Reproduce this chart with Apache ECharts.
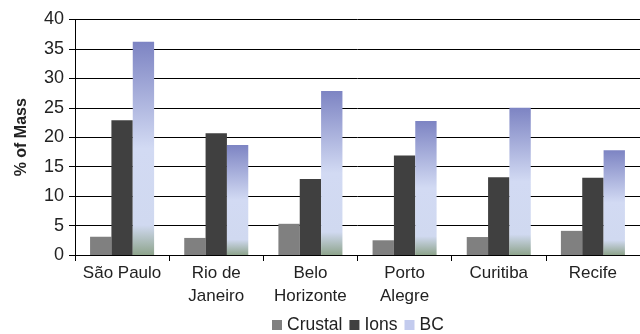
<!DOCTYPE html>
<html>
<head>
<meta charset="utf-8">
<script src="https://cdn.jsdelivr.net/npm/echarts@6/dist/echarts.min.js"></script>
<style>html,body{margin:0;padding:0;background:#fff}#c{width:640px;height:334px}</style>
</head>
<body>
<div id="c"></div>
<script>
const categories = ['São Paulo', 'Rio de\nJaneiro', 'Belo\nHorizonte', 'Porto\nAlegre', 'Curitiba', 'Recife'];
const crustal = [3.1, 2.9, 5.3, 2.5, 3.05, 4.1];
const ions = [22.9, 20.7, 12.9, 16.9, 13.2, 13.1];
const bc = [36.2, 18.7, 27.85, 22.75, 25.0, 17.8];
const yTicks = { min: 0, max: 40, interval: 5 };

const font = 'Liberation Sans, Arial, sans-serif';
const chart = echarts.init(document.getElementById('c'));
const bcGradient = new echarts.graphic.LinearGradient(0, 0, 0, 1, [
  { offset: 0, color: '#7d84c3' },
  { offset: 0.5, color: '#d2daf3' },
  { offset: 0.86, color: '#d0d9f0' },
  { offset: 1, color: '#8ea48c' }
]);
chart.setOption({
  animation: false,
  textStyle: { fontFamily: font },
  grid: { left: 75, right: 0, top: 19.5, bottom: 79, containLabel: false },
  legend: {
    top: 311,
    left: 267,
    itemWidth: 10,
    itemHeight: 10,
    itemGap: 7,
    icon: 'rect',
    textStyle: { fontSize: 17.5, color: '#222', fontFamily: font },
    data: [
      { name: 'Crustal' },
      { name: 'Ions' },
      { name: 'BC', itemStyle: { color: '#c3cbee' } }
    ]
  },
  xAxis: {
    type: 'category',
    data: categories,
    axisLine: { lineStyle: { color: '#000', width: 1 } },
    axisTick: { show: true, length: 6, lineStyle: { color: '#000' } },
    axisLabel: { fontSize: 17, color: '#222', lineHeight: 23, margin: 7, interval: 0 }
  },
  yAxis: {
    type: 'value',
    min: yTicks.min,
    max: yTicks.max,
    interval: yTicks.interval,
    name: '% of Mass',
    nameLocation: 'middle',
    nameGap: 45,
    nameTextStyle: { fontSize: 16, fontWeight: 'bold', color: '#222' },
    axisLine: { show: true, lineStyle: { color: '#000', width: 1 } },
    axisTick: { show: true, length: 6, lineStyle: { color: '#000' } },
    axisLabel: { fontSize: 18, color: '#222', margin: 11 },
    splitLine: { lineStyle: { color: '#000', width: 1 } }
  },
  series: [
    { name: 'Crustal', type: 'bar', data: crustal, barGap: '0%', barCategoryGap: '32%', itemStyle: { color: '#808080' } },
    { name: 'Ions', type: 'bar', data: ions, itemStyle: { color: '#404040' } },
    { name: 'BC', type: 'bar', data: bc, itemStyle: { color: bcGradient } }
  ]
});
</script>
</body>
</html>
